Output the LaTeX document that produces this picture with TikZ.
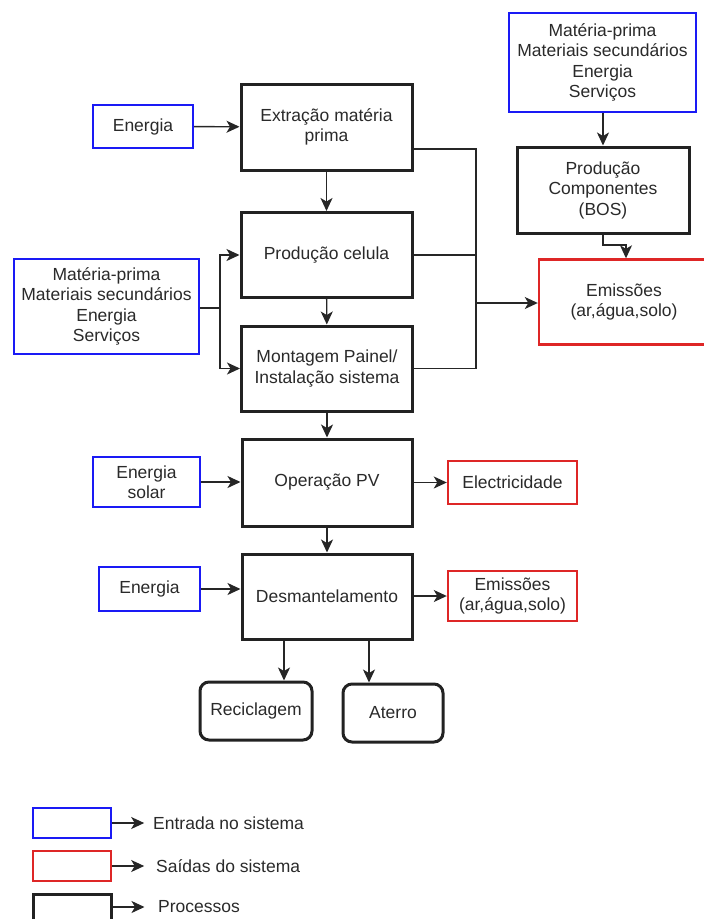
\documentclass[tikz,border=0pt]{standalone}
\usepackage{fontspec}
\setmainfont{Liberation Sans}
\usetikzlibrary{arrows.meta,calc}
\definecolor{inblue}{HTML}{1A1AF5}
\definecolor{outred}{HTML}{DE2626}
\definecolor{proc}{HTML}{222222}
\definecolor{txt}{HTML}{2A2A2A}
\tikzset{
  every node/.style={font=\fontsize{17.5}{20.5}\selectfont, text=txt, align=center, inner sep=0pt},
  procbox/.style={draw=proc, line width=3pt, fill=white},
  inbox/.style={draw=inblue, line width=2.4pt, fill=white},
  outbox/.style={draw=outred, line width=2.4pt, fill=white},
  endbox/.style={procbox, rounded corners=9pt},
  link/.style={draw=black!85, line width=1.4pt},
  flow/.style={link, -{Stealth[length=13pt,width=12pt,inset=3.5pt]}},
}
\begin{document}
\begin{tikzpicture}[x=1pt,y=-1pt]
\useasboundingbox (0,0) rectangle (704,919);
\clip (0,0) rectangle (704,919);

% main process chain
\node[procbox, minimum width=171pt, minimum height=86pt] (ext)  at (326.5,127) {Extração matéria\\prima};
\node[procbox, minimum width=171pt, minimum height=85pt] (pc)   at (326.5,255) {Produção celula};
\node[procbox, minimum width=171pt, minimum height=85pt] (mont) at (327,368.5) {Montagem Painel/\\Instalação sistema};
\node[procbox, minimum width=170pt, minimum height=87pt] (op)   at (327,482.5) {Operação PV};
\node[procbox, minimum width=170pt, minimum height=85pt] (desm) at (327,596.5) {Desmantelamento};

% balance of system branch
\node[inbox,  minimum width=187pt, minimum height=99pt] (mp2)  at (602.5,62.5) {Matéria-prima\\Materiais secundários\\Energia\\Serviços};
\node[procbox, minimum width=172pt, minimum height=86pt] (bos) at (603,190) {Produção\\Componentes\\(BOS)};
\node[outbox, minimum width=170pt, minimum height=85pt] (emis) at (624,302) {Emissões\\(ar,água,solo)};

% inputs
\node[inbox, minimum width=100pt, minimum height=43pt] (e1) at (143,126.5) {Energia};
\node[inbox, minimum width=185pt, minimum height=95pt] (mp) at (106.5,306.5) {Matéria-prima\\Materiais secundários\\Energia\\Serviços};
\node[inbox, minimum width=107pt, minimum height=50pt] (es) at (146.5,482) {Energia\\solar};
\node[inbox, minimum width=101pt, minimum height=44pt] (e2) at (149.5,589) {Energia};

% outputs
\node[outbox, minimum width=129pt, minimum height=43pt] (elec)  at (512.5,482.5) {Electricidade};
\node[outbox, minimum width=129pt, minimum height=50pt] (emis2) at (512.5,596) {Emissões\\(ar,água,solo)};

% end of life
\node[endbox, minimum width=112pt, minimum height=58pt] (rec)  at (256,711) {Reciclagem};
\node[endbox, minimum width=100pt, minimum height=58pt] (ater) at (393,713) {Aterro};

% chain arrows
\draw[flow] (ext) -- (pc);
\draw[flow] (pc) -- (mont);
\draw[flow] (mont) -- (op);
\draw[flow] (op) -- (desm);

% inputs into processes
\draw[flow] (e1) -- (ext);
\coordinate (jl) at (220,308);
\draw[link] (mp.east |- jl) -- (jl);
\draw[flow] (jl) |- (pc.west);
\draw[flow] (jl) |- (mont.west);
\draw[flow] (es.east) -- (es.east -| op.west);
\draw[flow] (e2.east) -- (e2.east -| desm.west);

% emissions collector
\coordinate (bus) at (476,303);
\draw[link] ([yshift=-22pt]ext.east) -| (bus);
\draw[link] (pc.east) -| (bus);
\draw[link] (mont.east) -| (bus);
\draw[flow] (bus) -- (bus -| emis.west);

% BOS branch
\draw[flow] (mp2.south -| bos.north) -- (bos.north);
\coordinate (kb) at (626,245);
\draw[flow] (bos.south) |- (kb) -- (kb |- emis.north);

% outputs
\draw[flow] (op.east) -- (op.east -| elec.west);
\draw[flow] (desm.east |- emis2.west) -- (emis2.west);

% end of life arrows
\draw[flow] ([xshift=-43pt]desm.south) -- ([xshift=-43pt]desm.south |- rec.north);
\draw[flow] ([xshift=42pt]desm.south) -- ([xshift=42pt]desm.south |- ater.north);

% legend
\node[inbox,   minimum width=78pt, minimum height=30pt] (lin)  at (72,823) {};
\node[outbox,  minimum width=78pt, minimum height=30pt] (lout) at (72,866) {};
\node[procbox, minimum width=78pt, minimum height=30pt] (lpro) at (72,909) {};
\node[anchor=west] (tin)  at (153,823) {Entrada no sistema};
\node[anchor=west] (tout) at (156,866) {Saídas do sistema};
\node[anchor=west] (tpro) at (158,907) {Processos};
\draw[flow] (lin.east) -- ++(32,0);
\draw[flow] (lout.east) -- ++(32,0);
\draw[flow] (lpro.east |- tpro) -- ++(32,0);
\end{tikzpicture}
\end{document}
